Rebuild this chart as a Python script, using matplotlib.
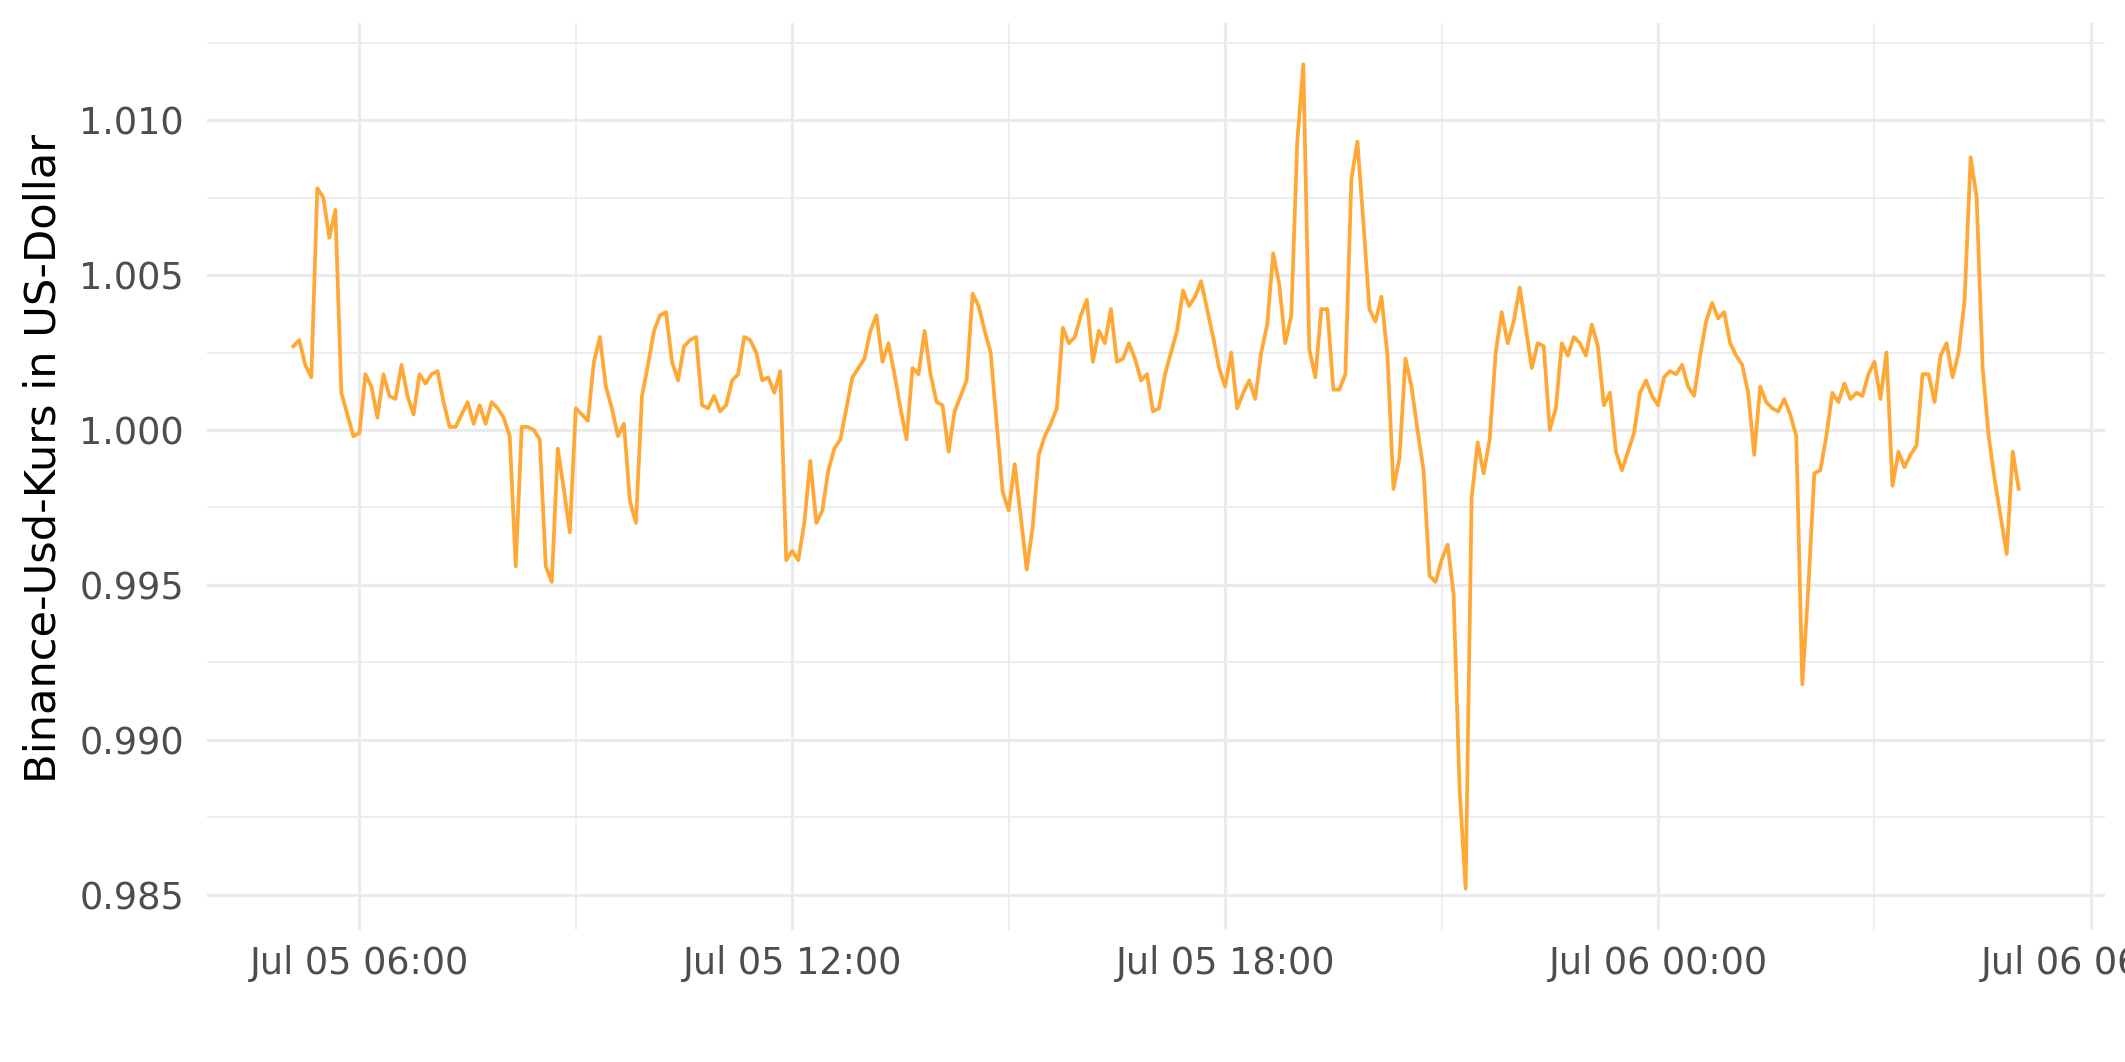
import matplotlib
matplotlib.use("Agg")
import matplotlib.dates as mdates
import matplotlib.pyplot as plt
from matplotlib.ticker import FixedLocator, FormatStrFormatter
import pandas as pd

# 5-minute BUSD quotes
START_TIME = "2022-07-05 05:05"
STEP = "5min"
BUSD_USD = [
    1.0027, 1.0029, 1.0021, 1.0017, 1.0078, 1.0075, 1.0062, 1.0071, 1.0012, 1.0005,
    0.9998, 0.9999, 1.0018, 1.0014, 1.0004, 1.0018, 1.0011, 1.0010, 1.0021, 1.0011,
    1.0005, 1.0018, 1.0015, 1.0018, 1.0019, 1.0009, 1.0001, 1.0001, 1.0005, 1.0009,
    1.0002, 1.0008, 1.0002, 1.0009, 1.0007, 1.0004, 0.9998, 0.9956, 1.0001, 1.0001,
    1.0000, 0.9997, 0.9956, 0.9951, 0.9994, 0.9981, 0.9967, 1.0007, 1.0005, 1.0003,
    1.0022, 1.0030, 1.0014, 1.0007, 0.9998, 1.0002, 0.9977, 0.9970, 1.0011, 1.0021,
    1.0032, 1.0037, 1.0038, 1.0022, 1.0016, 1.0027, 1.0029, 1.0030, 1.0008, 1.0007,
    1.0011, 1.0006, 1.0008, 1.0016, 1.0018, 1.0030, 1.0029, 1.0025, 1.0016, 1.0017,
    1.0012, 1.0019, 0.9958, 0.9961, 0.9958, 0.9970, 0.9990, 0.9970, 0.9974, 0.9987,
    0.9994, 0.9997, 1.0007, 1.0017, 1.0020, 1.0023, 1.0032, 1.0037, 1.0022, 1.0028,
    1.0018, 1.0007, 0.9997, 1.0020, 1.0018, 1.0032, 1.0018, 1.0009, 1.0008, 0.9993,
    1.0006, 1.0011, 1.0016, 1.0044, 1.0040, 1.0032, 1.0025, 1.0002, 0.9980, 0.9974,
    0.9989, 0.9972, 0.9955, 0.9969, 0.9992, 0.9998, 1.0002, 1.0007, 1.0033, 1.0028,
    1.0030, 1.0037, 1.0042, 1.0022, 1.0032, 1.0028, 1.0039, 1.0022, 1.0023, 1.0028,
    1.0023, 1.0016, 1.0018, 1.0006, 1.0007, 1.0018, 1.0025, 1.0032, 1.0045, 1.0040,
    1.0043, 1.0048, 1.0039, 1.0030, 1.0020, 1.0014, 1.0025, 1.0007, 1.0012, 1.0016,
    1.0010, 1.0025, 1.0034, 1.0057, 1.0047, 1.0028, 1.0037, 1.0093, 1.0118, 1.0026,
    1.0017, 1.0039, 1.0039, 1.0013, 1.0013, 1.0018, 1.0081, 1.0093, 1.0067, 1.0039,
    1.0035, 1.0043, 1.0024, 0.9981, 0.9991, 1.0023, 1.0014, 1.0000, 0.9987, 0.9953,
    0.9951, 0.9958, 0.9963, 0.9947, 0.9884, 0.9852, 0.9978, 0.9996, 0.9986, 0.9997,
    1.0025, 1.0038, 1.0028, 1.0035, 1.0046, 1.0033, 1.0020, 1.0028, 1.0027, 1.0000,
    1.0007, 1.0028, 1.0024, 1.0030, 1.0028, 1.0024, 1.0034, 1.0027, 1.0008, 1.0012,
    0.9993, 0.9987, 0.9993, 0.9999, 1.0012, 1.0016, 1.0011, 1.0008, 1.0017, 1.0019,
    1.0018, 1.0021, 1.0014, 1.0011, 1.0024, 1.0035, 1.0041, 1.0036, 1.0038, 1.0028,
    1.0024, 1.0021, 1.0012, 0.9992, 1.0014, 1.0009, 1.0007, 1.0006, 1.0010, 1.0005,
    0.9998, 0.9918, 0.9949, 0.9986, 0.9987, 0.9998, 1.0012, 1.0009, 1.0015, 1.0010,
    1.0012, 1.0011, 1.0018, 1.0022, 1.0010, 1.0025, 0.9982, 0.9993, 0.9988, 0.9992,
    0.9995, 1.0018, 1.0018, 1.0009, 1.0024, 1.0028, 1.0017, 1.0025, 1.0042, 1.0088,
    1.0075, 1.0020, 0.9998, 0.9984, 0.9972, 0.9960, 0.9993, 0.9981,
]

Y_TICKS = [0.985, 0.990, 0.995, 1.000, 1.005, 1.010]
Y_MINOR = [0.9875, 0.9925, 0.9975, 1.0025, 1.0075, 1.0125]
Y_LABEL = "Binance-Usd-Kurs in US-Dollar"

LINE_COLOR = "#FFA836"
GRID_COLOR = "#EBEBEB"
TEXT_COLOR = "#4D4D4D"

W, H, DPI = 2125, 1062, 300

times = pd.date_range(START_TIME, periods=len(BUSD_USD), freq=STEP)
df = pd.DataFrame({"time": times, "kurs": BUSD_USD})

fig = plt.figure(figsize=(W / DPI, H / DPI), dpi=DPI)
ax = fig.add_axes([207 / W, 1 - 930 / H, (2105 - 207) / W, (930 - 23) / H])

ax.plot(df.time, df.kurs, color=LINE_COLOR, linewidth=0.9, zorder=3)

# ggplot-like 5% expansion of the data range
t0, t1 = df.time.min(), df.time.max()
dt = (t1 - t0) * 0.05
ax.set_xlim(t0 - dt, t1 + dt)
y0, y1 = df.kurs.min(), df.kurs.max()
dy = (y1 - y0) * 0.05
ax.set_ylim(y0 - dy, y1 + dy)

ax.xaxis.set_major_locator(mdates.HourLocator(byhour=[0, 6, 12, 18]))
ax.xaxis.set_minor_locator(mdates.HourLocator(byhour=[3, 9, 15, 21]))
ax.xaxis.set_major_formatter(mdates.DateFormatter("%b %d %H:%M"))
ax.yaxis.set_major_locator(FixedLocator(Y_TICKS))
ax.yaxis.set_minor_locator(FixedLocator(Y_MINOR))
ax.yaxis.set_major_formatter(FormatStrFormatter("%.3f"))

ax.grid(which="major", color=GRID_COLOR, linewidth=0.75, zorder=0)
ax.grid(which="minor", color=GRID_COLOR, linewidth=0.4, zorder=0)
ax.set_axisbelow(True)

for s in ax.spines.values():
    s.set_visible(False)
ax.tick_params(which="both", length=0)
ax.tick_params(axis="x", labelsize=8.8, labelcolor=TEXT_COLOR, pad=3.5)
ax.tick_params(axis="y", labelsize=8.8, labelcolor=TEXT_COLOR, pad=5.5)

ax.set_ylabel(Y_LABEL, fontsize=10.4, color="black")
ax.yaxis.set_label_coords(-0.075, 0.52)

fig.savefig("out.png", dpi=DPI)
